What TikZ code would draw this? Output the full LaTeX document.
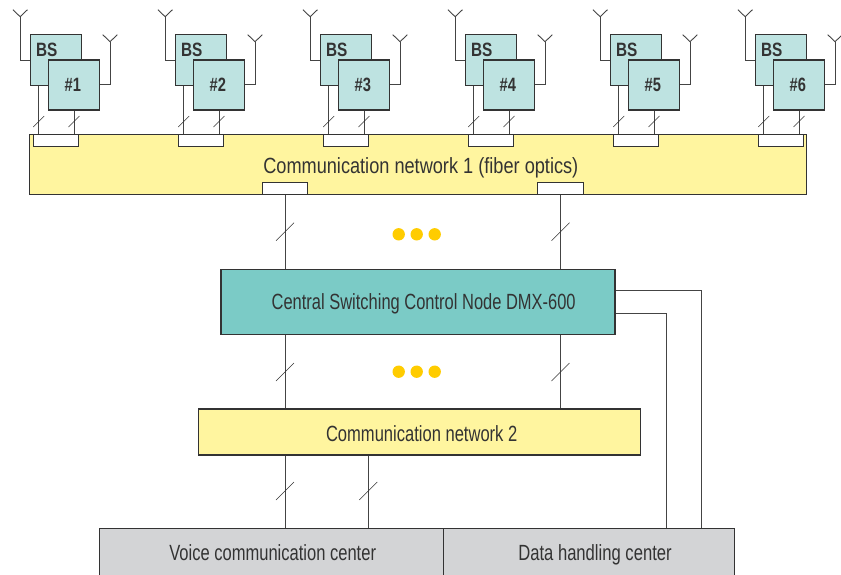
\documentclass[tikz,border=0pt]{standalone}
\usepackage{fontspec}
\usepackage{graphicx}
\setmainfont{Liberation Sans}[FakeStretch=0.76]
\usetikzlibrary{calc}
\definecolor{bsfill}{HTML}{BEE3E1}
\definecolor{cnfill}{HTML}{7BCBC6}
\definecolor{netfill}{HTML}{FFF59F}
\definecolor{grayfill}{HTML}{D3D4D6}
\definecolor{dotc}{HTML}{FFCC00}
\definecolor{ink}{HTML}{333333}
\definecolor{wirec}{HTML}{444444}
\tikzset{
  box/.style={draw=ink, line width=1.1pt, inner sep=0pt, rectangle},
  bsbox/.style={box, fill=bsfill, minimum width=51pt, minimum height=51pt},
  port/.style={box, fill=white, minimum width=45pt, minimum height=12.5pt},
  wire/.style={draw=wirec, line width=0.9pt},
  tick/.style={draw=ink, line width=0.6pt},
  lbl/.style={text=ink, inner sep=0pt, anchor=base, font=\fontsize{22}{24}\selectfont},
  bslbl/.style={text=ink, inner sep=0pt, font=\fontsize{19.3}{20}\selectfont\bfseries},
}
% fit a label to a given width, keeping its natural height
\newcommand{\fitw}[2]{\resizebox{#1pt}{\height}{#2}}
\newcommand{\slashat}[2]{\draw[tick] ($(#1)+(-#2,#2)$) -- ($(#1)+(#2,-#2)$);}
\newcommand{\antenna}[1]{\draw[wire] (#1) -- ++(-7.3,-7) (#1) -- ++(7.3,-7);}
\begin{document}
\begin{tikzpicture}[x=1pt, y=-1pt]
\useasboundingbox (0,0) rectangle (841,574);
\clip (0,0) rectangle (841,574);

% communication network 1
\node[box, fill=netfill, minimum width=777.4pt, minimum height=60.3pt] (net1) at (418,164.2) {};
\node[lbl] at (420.8,173.3) {\fitw{315}{Communication network 1 (fiber optics)}};

% base stations with their antennas and ports
\foreach \i in {1,...,6} {
  \pgfmathsetmacro{\dx}{145*(\i-1)}
  \node[bsbox] (b\i) at ({56.2+\dx},60) {};
  \node[bslbl, anchor=base west] at ({35.8+\dx},56) {\fitw{21.3}{BS}};
  \node[bsbox, minimum height=50pt] (f\i) at ({74+\dx},85) {};
  \node[bslbl, anchor=base] at ({72.8+\dx},91.5) {\#\i};
  \node[port] (p\i) at ({55.8+\dx},140.3) {};
  % antennas
  \draw[wire] (b\i.west) -| ++(-10,-43.3) coordinate (la\i);
  \antenna{la\i}
  \draw[wire] ($(f\i.east)+(0,-1)$) -| ++(10,-42.3) coordinate (ra\i);
  \antenna{ra\i}
  % links into the network
  \draw[wire] ($(b\i.south west)+(8.6,0)$) coordinate (bl\i) -- (bl\i |- p\i.north);
  \draw[wire] (f\i.south) -- (f\i.south |- p\i.north);
  \coordinate (s\i) at ($(bl\i |- p\i.north)+(0,-12)$);
  \slashat{s\i}{5.5}
  \coordinate (t\i) at ($(f\i.south |- p\i.north)+(0,-12)$);
  \slashat{t\i}{5.5}
}

% lower ports of network 1
\node[port, minimum width=45.4pt, minimum height=12pt] (pl) at (285,188.3) {};
\node[port, minimum width=45.4pt, minimum height=12pt] (pr) at (560.5,188.3) {};

% central switching node
\node[box, fill=cnfill, minimum width=394pt, minimum height=65.3pt] (cn) at (418,301.7) {};
\node[lbl] at (423.7,309.3) {\fitw{304}{Central Switching Control Node DMX-600}};

% communication network 2
\node[box, fill=netfill, minimum width=441.7pt, minimum height=46pt] (net2) at (419.2,432) {};
\node[lbl] at (421.7,441.3) {\fitw{191.3}{Communication network 2}};

% centers
\node[box, fill=grayfill, minimum width=343.7pt, minimum height=56pt, anchor=north west] (voice) at (99,528) {};
\node[box, fill=grayfill, minimum width=291.6pt, minimum height=56pt, anchor=north west] (data) at (442.7,528) {};
\node[lbl] at (272.7,560.7) {\fitw{206.7}{Voice communication center}};
\node[lbl] at (595,560.7) {\fitw{153.4}{Data handling center}};

% network 1 to central node
\draw[wire] (pl.south) -- (pl.south |- cn.north);
\draw[wire] (pr.south) -- (pr.south |- cn.north);
\slashat{285,231.7}{9}
\slashat{560.5,231.7}{9}

% central node to network 2
\draw[wire] (cn.south -| pl.south) coordinate (c1) -- (c1 |- net2.north);
\draw[wire] (cn.south -| pr.south) coordinate (c2) -- (c2 |- net2.north);
\slashat{285,372}{9}
\slashat{560.5,372}{9}

% network 2 to voice center
\draw[wire] (net2.south -| pl.south) coordinate (v1) -- (v1 |- voice.north);
\draw[wire] (net2.south -| 368.3,0) coordinate (v2) -- (v2 |- voice.north);
\slashat{285,491}{9}
\slashat{368.3,491}{9}

% central node to data handling center
\draw[wire] (cn.east |- 0,290.7) -| (701.7,0 |- data.north);
\draw[wire] (cn.east |- 0,313.3) -| (666,0 |- data.north);

% continuation dots
\foreach \y in {234.3,371.7} {
  \foreach \x in {398.7,416.7,434.7} {
    \fill[dotc] (\x,\y) circle (6.2);
  }
}
\end{tikzpicture}
\end{document}
